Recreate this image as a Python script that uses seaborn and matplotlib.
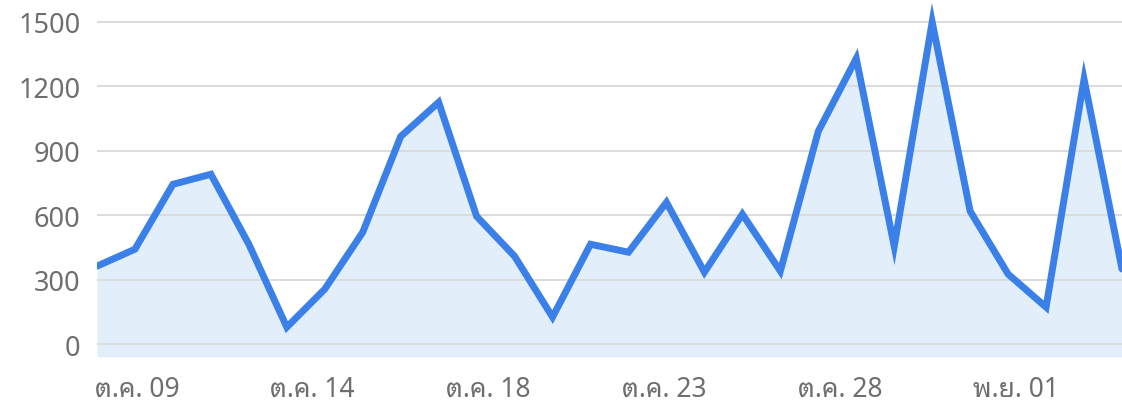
import numpy as np
import pandas as pd
import seaborn as sns
import matplotlib.pyplot as plt

# daily values, Oct 08 .. Nov 04
values = [363, 442, 744, 791, 465, 79, 256, 521, 967, 1126,
          595, 409, 126, 465, 428, 660, 335, 605, 340, 991,
          1330, 456, 1500, 619, 326, 172, 1233, 350]
tick_labels = ['ต.ค. 09', 'ต.ค. 14', 'ต.ค. 18', 'ต.ค. 23', 'ต.ค. 28', 'พ.ย. 01']
y_ticks = [0, 300, 600, 900, 1200, 1500]

df = pd.DataFrame({'day': np.arange(len(values)), 'value': values})

sns.set_style('white')
plt.rcParams['font.family'] = ['Noto Sans Thai Looped', 'Noto Sans Thai', 'Roboto', 'DejaVu Sans']

fig = plt.figure(figsize=(11.22, 4.06), dpi=100)
ax = fig.add_axes([97 / 1122, 48 / 406, 1 - 97 / 1122, 1 - 48 / 406])

line_color = '#3b80e8'
ax.fill_between(df['day'], df['value'], -60, color='#e3eefb', zorder=1, linewidth=0)
sns.lineplot(data=df, x='day', y='value', ax=ax, color=line_color, linewidth=5,
             zorder=3, solid_joinstyle='miter')

ax.set_xlim(0, len(values) - 1)
ax.set_ylim(-60, 1607)
ax.set_yticks(y_ticks)
ax.set_yticklabels([str(v) for v in y_ticks], fontsize=19.5)
# labels sit at evenly spaced positions along the time axis
ax.set_xticks([1.05 + 4.63 * i for i in range(len(tick_labels))])
ax.set_xticklabels(tick_labels, fontsize=19)
ax.grid(axis='y', color='#d9d9d9', linewidth=1.3, zorder=2)
ax.set_axisbelow(False)
ax.tick_params(axis='both', length=0, labelcolor='#6e6e6e')
ax.tick_params(axis='y', pad=12)
ax.tick_params(axis='x', pad=13)
ax.set_xlabel('')
ax.set_ylabel('')
sns.despine(ax=ax, left=True, bottom=True)

fig.savefig('out.png', dpi=100)
